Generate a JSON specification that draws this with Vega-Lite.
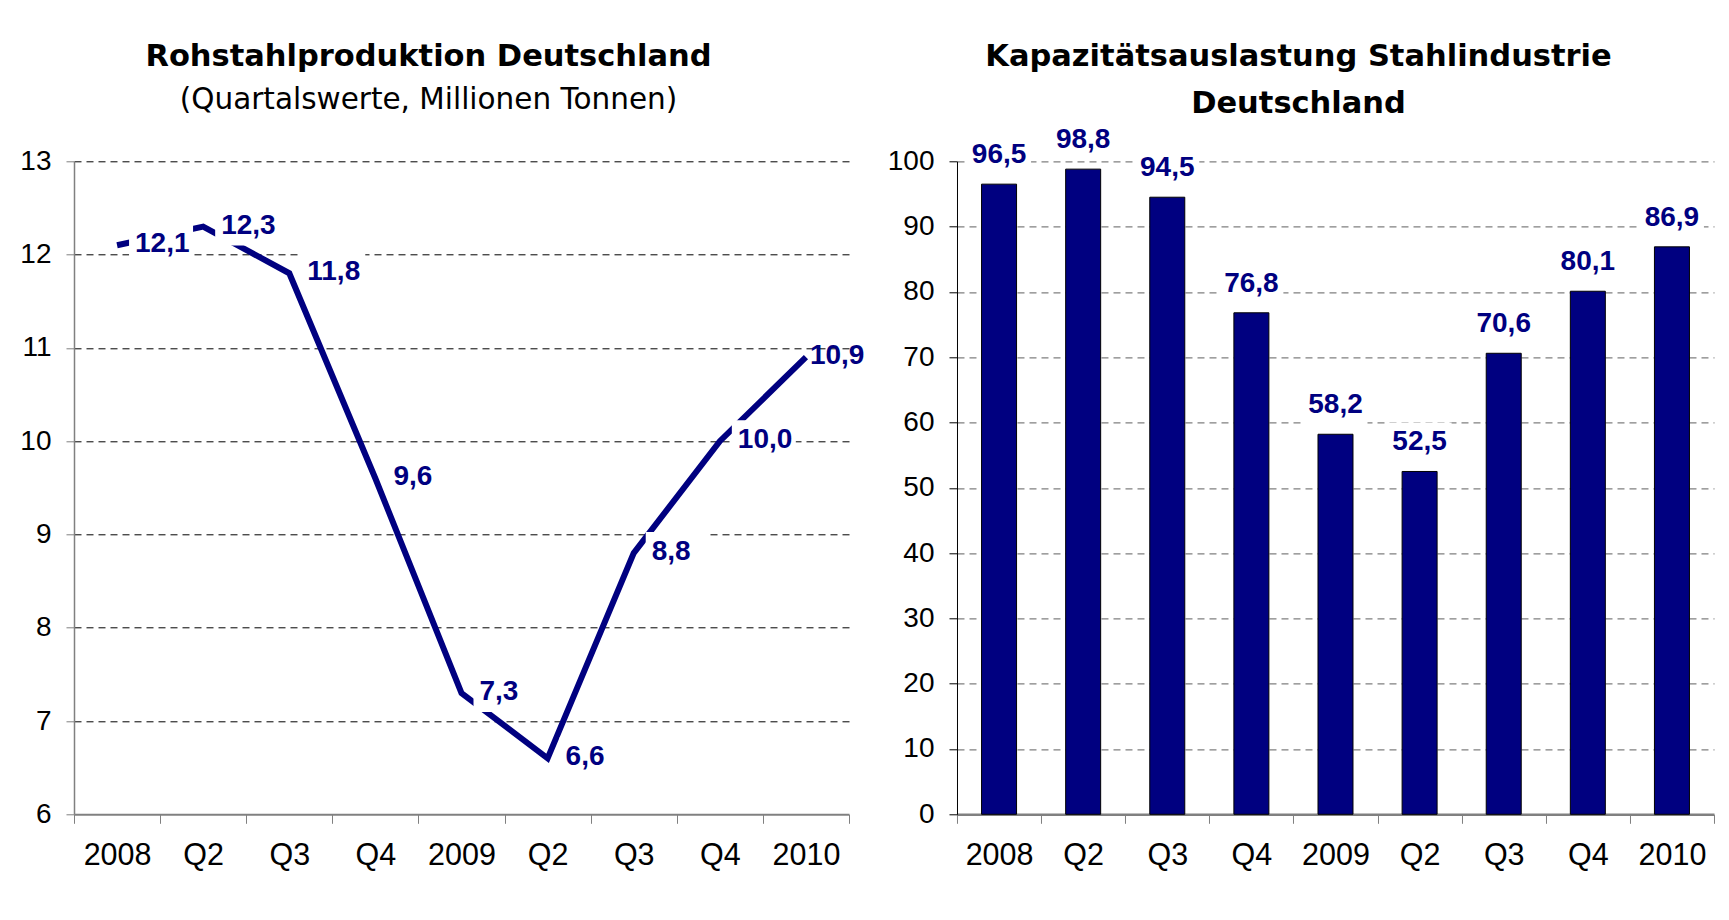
{
  "$schema": "https://vega.github.io/schema/vega-lite/v6.json",
  "background": "white",
  "padding": {"left": 19, "top": 41.3, "right": 5, "bottom": 5},
  "spacing": 22,
  "config": {
    "locale": {"number": {"decimal": ",", "thousands": ".", "grouping": [3], "currency": ["", " €"]}},
    "view": {"stroke": null},
    "axis": {"labelFont": "Liberation Sans", "labelFontSize": 28, "labelColor": "black", "title": null},
    "title": {"font": "DejaVu Sans", "fontSize": 30.5, "fontWeight": "bold", "color": "black", "anchor": "middle", "frame": "group", "subtitleFont": "DejaVu Sans", "subtitleFontSize": 29.5, "subtitleColor": "black", "subtitleFontWeight": "normal"}
  },
  "datasets": {
    "prod": [
      {"period": "2008-Q1", "value": 12.1},
      {"period": "2008-Q2", "value": 12.3},
      {"period": "2008-Q3", "value": 11.8},
      {"period": "2008-Q4", "value": 9.6},
      {"period": "2009-Q1", "value": 7.3},
      {"period": "2009-Q2", "value": 6.6},
      {"period": "2009-Q3", "value": 8.8},
      {"period": "2009-Q4", "value": 10.0},
      {"period": "2010-Q1", "value": 10.9}
    ],
    "cap": [
      {"period": "2008-Q1", "value": 96.5},
      {"period": "2008-Q2", "value": 98.8},
      {"period": "2008-Q3", "value": 94.5},
      {"period": "2008-Q4", "value": 76.8},
      {"period": "2009-Q1", "value": 58.2},
      {"period": "2009-Q2", "value": 52.5},
      {"period": "2009-Q3", "value": 70.6},
      {"period": "2009-Q4", "value": 80.1},
      {"period": "2010-Q1", "value": 86.9}
    ]
  },
  "hconcat": [
    {
      "width": 775,
      "height": 653,
      "title": {"text": "Rohstahlproduktion Deutschland", "subtitle": "(Quartalswerte, Millionen Tonnen)", "dx": -33, "offset": 33, "subtitlePadding": 13.5},
      "data": {"name": "prod"},
      "encoding": {
        "x": {"field": "period", "type": "ordinal",
          "scale": {"type": "band", "paddingInner": 0, "paddingOuter": 0, "domain": ["2008-Q1","2008-Q2","2008-Q3","2008-Q4","2009-Q1","2009-Q2","2009-Q3","2009-Q4","2010-Q1"]},
          "axis": {"tickBand": "extent", "labelAngle": 0, "labelPadding": 17, "labelFontSize": 30.5, "tickSize": 9, "tickColor": "#808080", "domainColor": "#808080", "domainWidth": 2, "grid": false,
            "labelExpr": "split(datum.value, '-')[1] == 'Q1' ? split(datum.value, '-')[0] : split(datum.value, '-')[1]"}},
        "y": {"field": "value", "type": "quantitative",
          "scale": {"domain": [6, 13], "nice": false, "zero": false},
          "axis": {"values": [6, 7, 8, 9, 10, 11, 12, 13], "tickSize": 8, "labelPadding": 15, "domainColor": "#808080", "domainWidth": 1.5, "tickColor": "#808080",
            "gridColor": "black", "gridDash": [7, 5], "gridWidth": 1,
            "gridOpacity": {"condition": {"test": "datum.value === 6", "value": 0}, "value": 1}}}
      },
      "layer": [
        {"mark": {"type": "line", "color": "#000080", "strokeWidth": 6, "strokeJoin": "miter"}},
        {"transform": [{"filter": "datum.period != '2010-Q1'"}],
          "mark": {"type": "point", "shape": "M-1,-0.625L1,-0.625L1,0.625L-1,0.625Z", "size": 4096, "filled": true, "color": "white", "opacity": 1, "strokeWidth": 0, "xOffset": 44, "yOffset": -1}},
        {"transform": [{"filter": "datum.period != '2010-Q1'"}],
          "mark": {"type": "text", "align": "left", "baseline": "middle", "dx": 18, "dy": -1, "font": "Liberation Sans", "fontSize": 28, "fontWeight": "bold", "color": "#000080"},
          "encoding": {"text": {"field": "value", "type": "quantitative", "format": ".1f"}}},
        {"transform": [{"filter": "datum.period == '2010-Q1'"}],
          "mark": {"type": "text", "align": "left", "baseline": "middle", "dx": 4, "dy": -1, "font": "Liberation Sans", "fontSize": 28, "fontWeight": "bold", "color": "#000080"},
          "encoding": {"text": {"field": "value", "type": "quantitative", "format": ".1f"}}}
      ]
    },
    {
      "width": 757,
      "height": 653,
      "title": {"text": ["Kapazitätsauslastung Stahlindustrie", "Deutschland"], "dx": -37, "offset": 0.5, "lineHeight": 47},
      "data": {"name": "cap"},
      "encoding": {
        "x": {"field": "period", "type": "ordinal",
          "scale": {"type": "band", "paddingInner": 0, "paddingOuter": 0, "domain": ["2008-Q1","2008-Q2","2008-Q3","2008-Q4","2009-Q1","2009-Q2","2009-Q3","2009-Q4","2010-Q1"]},
          "axis": {"tickBand": "extent", "labelAngle": 0, "labelPadding": 17, "labelFontSize": 30.5, "tickSize": 9, "tickColor": "#808080", "domainColor": "#808080", "domainWidth": 2.5, "grid": false,
            "labelExpr": "split(datum.value, '-')[1] == 'Q1' ? split(datum.value, '-')[0] : split(datum.value, '-')[1]"}},
        "y": {"field": "value", "type": "quantitative",
          "scale": {"domain": [0, 100], "nice": false},
          "axis": {"values": [0, 10, 20, 30, 40, 50, 60, 70, 80, 90, 100], "tickSize": 8, "labelPadding": 15, "domainColor": "black", "domainWidth": 1, "tickColor": "black",
            "gridColor": "#808080", "gridDash": [7, 5], "gridWidth": 1.2,
            "gridOpacity": {"condition": {"test": "datum.value === 0", "value": 0}, "value": 1}}}
      },
      "layer": [
        {"mark": {"type": "bar", "color": "#000080", "stroke": "black", "strokeWidth": 1, "width": 35}},
        {"mark": {"type": "point", "shape": "M-1,-0.625L1,-0.625L1,0.625L-1,0.625Z", "size": 4096, "filled": true, "color": "white", "opacity": 1, "strokeWidth": 0, "yOffset": -29}},
        {"mark": {"type": "text", "align": "center", "baseline": "middle", "dy": -29, "font": "Liberation Sans", "fontSize": 28, "fontWeight": "bold", "color": "#000080"},
          "encoding": {"text": {"field": "value", "type": "quantitative", "format": ".1f"}}}
      ]
    }
  ]
}
